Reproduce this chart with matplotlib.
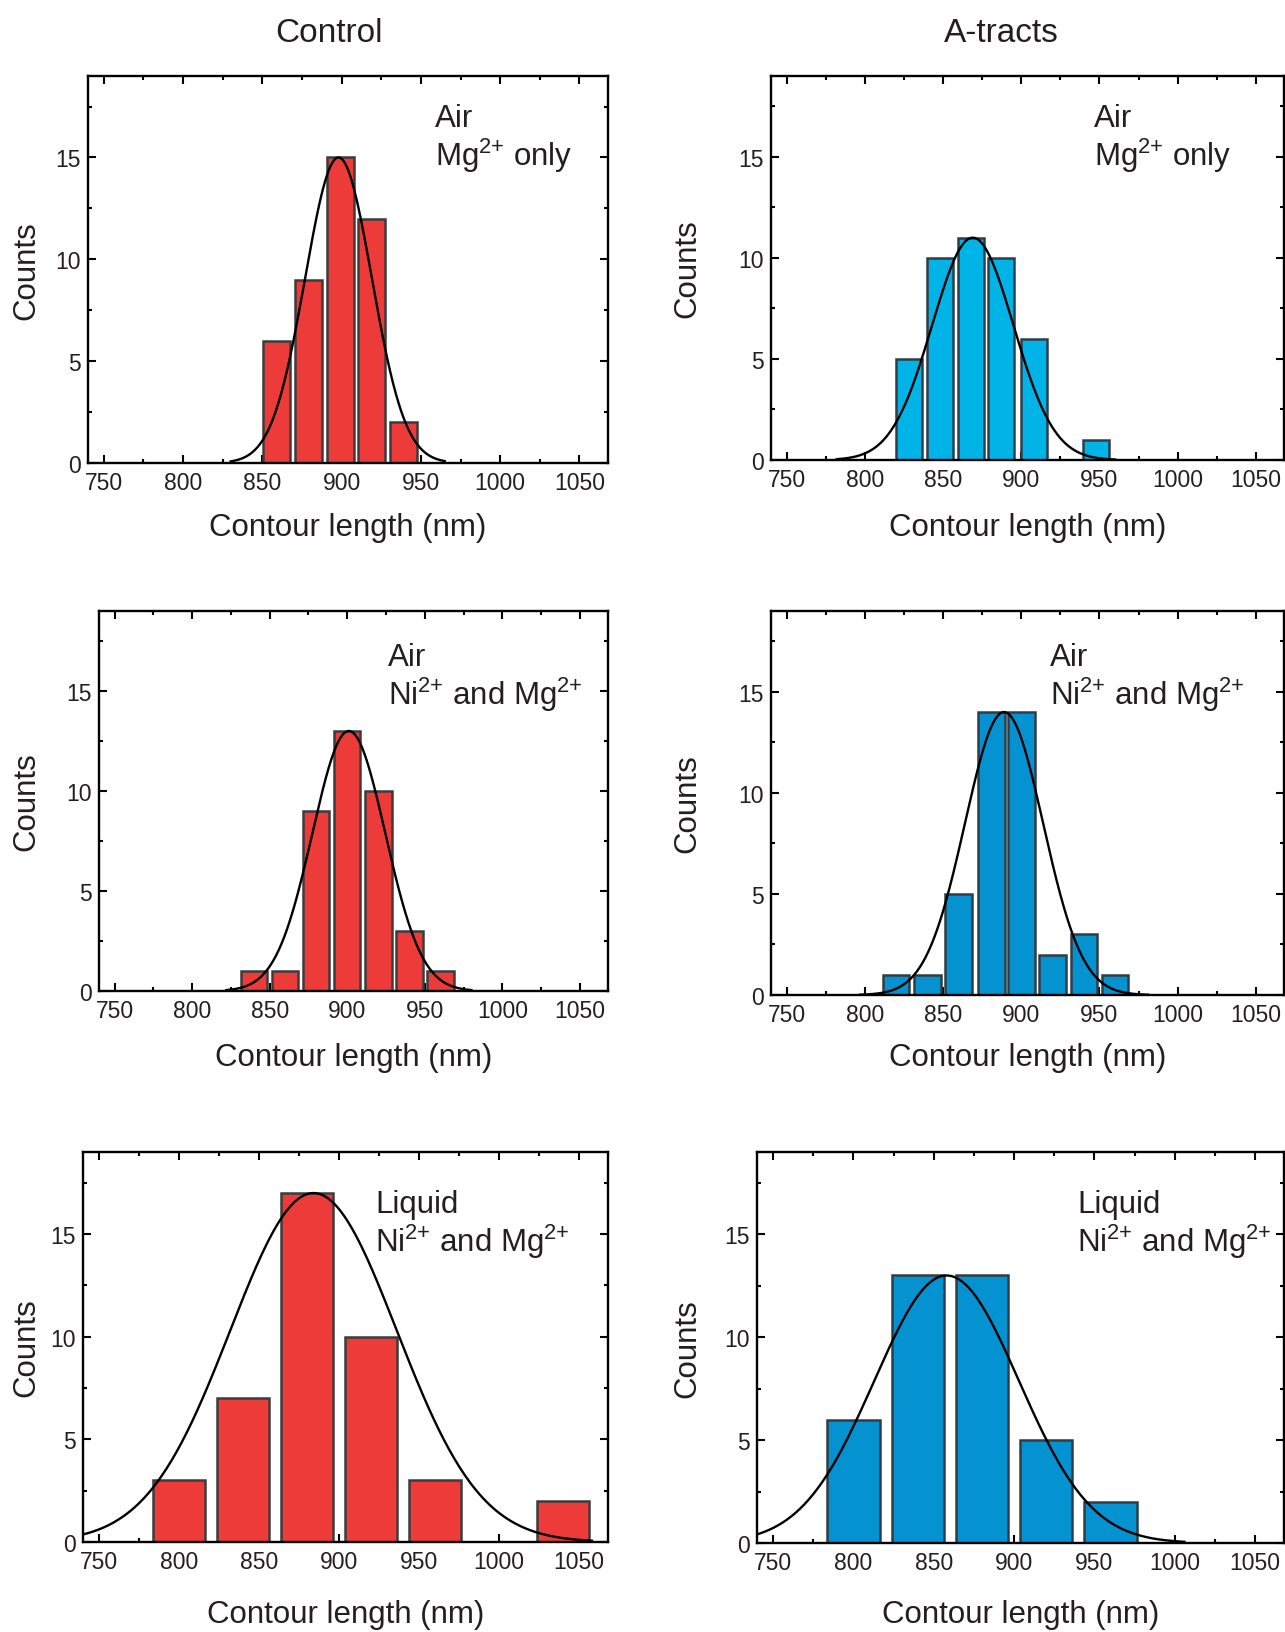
import numpy as np
import matplotlib
matplotlib.use("Agg")
import matplotlib.pyplot as plt
from matplotlib import font_manager
from matplotlib.ticker import MultipleLocator

W, H = 1285, 1633

# bar centres (nm) and counts
ctrl_air_mg_x = [859, 879, 899, 919, 939]
ctrl_air_mg_y = [6, 9, 15, 12, 2]
at_air_mg_x = [828, 848, 868, 887, 908, 948]
at_air_mg_y = [5, 10, 11, 10, 6, 1]
ctrl_air_ni_x = [840, 860, 880, 900, 920, 940, 960]
ctrl_air_ni_y = [1, 1, 9, 13, 10, 3, 1]
at_air_ni_x = [820, 840, 860, 881, 900, 920, 940, 960]
at_air_ni_y = [1, 1, 5, 14, 14, 2, 3, 1]
ctrl_liq_x = [800, 840, 880, 920, 960, 1040]
ctrl_liq_y = [3, 7, 17, 10, 3, 2]
at_liq_x = [800, 840, 880, 920, 960]
at_liq_y = [6, 13, 13, 5, 2]

# gaussian fits: (centre, sigma, amplitude, drawn from, drawn to)
ctrl_air_mg_fit = (898, 21, 15, 830, 965)
at_air_mg_fit = (869, 26, 11, 782, 960)
ctrl_air_ni_fit = (901, 23.5, 13, 822, 980)
at_air_ni_fit = (889, 25, 14, 797, 981)
ctrl_liq_fit = (884, 52, 17, 740, 1058)
at_liq_fit = (858, 45, 13, 740, 1006)

names = {f.name for f in font_manager.fontManager.ttflist}
plt.rcParams['font.family'] = ['Liberation Sans', 'DejaVu Sans']
plt.rcParams['mathtext.fontset'] = 'custom'
plt.rcParams['mathtext.rm'] = 'Liberation Sans'
if 'Liberation Sans Narrow' in names:
    tick_font = dict(family='Liberation Sans Narrow', size=20)
else:
    tick_font = dict(family='Liberation Sans', size=16.5)

RED = '#EC3B38'
CYAN = '#00B4E8'
BLUE = '#0592D0'
TXT = '#231F20'

fig = plt.figure(figsize=(W / 100, H / 100), dpi=100)


def px_axes(l, t, r, b):
    return fig.add_axes([l / W, 1 - b / H, (r - l) / W, (b - t) / H])


def panel(box, xs, ys, width, color, edge, fit, line1, line2, txt_xy, xlab_y, ylab_x):
    ax = px_axes(*box)
    ax.bar(xs, ys, width=width, color=color, edgecolor=edge, linewidth=1.8, zorder=2)
    mu, sd, amp, lo, hi = fit
    gx = np.linspace(lo, hi, 300)
    ax.plot(gx, amp * np.exp(-0.5 * ((gx - mu) / sd) ** 2), color='black', lw=1.7, zorder=3)
    ax.set_xlim(740, 1068)
    ax.set_ylim(0, 19)
    ax.xaxis.set_major_locator(MultipleLocator(50))
    ax.xaxis.set_minor_locator(MultipleLocator(25))
    ax.yaxis.set_major_locator(MultipleLocator(5))
    ax.yaxis.set_minor_locator(MultipleLocator(2.5))
    ax.tick_params(which='both', direction='in', top=True, right=True, width=1.5)
    ax.tick_params(which='major', length=6)
    ax.tick_params(which='minor', length=3)
    ax.tick_params(axis='x', pad=6)
    ax.tick_params(axis='y', pad=5)
    for lab in ax.get_xticklabels() + ax.get_yticklabels():
        lab.set_fontfamily(tick_font['family'])
        lab.set_fontsize(tick_font['size'])
        lab.set_color(TXT)
    for s in ax.spines.values():
        s.set_linewidth(1.7)
    tx, ty1, ty2 = txt_xy
    fig.text(tx / W, 1 - ty1 / H, line1, fontsize=22.5, color=TXT, va='baseline')
    fig.text(tx / W, 1 - ty2 / H, line2, fontsize=22.5, color=TXT, va='baseline')
    cx = (box[0] + box[2]) / 2
    fig.text(cx / W, 1 - xlab_y / H, 'Contour length (nm)', fontsize=22.5,
             color=TXT, ha='center', va='center')
    fig.text(ylab_x / W, 1 - (box[1] + box[3]) / 2 / H, 'Counts', fontsize=22.5,
             color=TXT, ha='center', va='center', rotation=90)
    return ax


mg = r'Mg$^{2{+}}$ only'
nimg = r'Ni$^{2{+}}$ and Mg$^{2{+}}$'

panel((88, 77, 608, 464), ctrl_air_mg_x, ctrl_air_mg_y, 17, RED, '#3c3c3c',
      ctrl_air_mg_fit, 'Air', mg, (435, 127, 166), 528, 26)
panel((771, 77, 1284, 461), at_air_mg_x, at_air_mg_y, 16.5, CYAN, '#2e3d47',
      at_air_mg_fit, 'Air', mg, (1094, 127, 166), 528, 687)
panel((99, 612, 608, 992), ctrl_air_ni_x, ctrl_air_ni_y, 17, RED, '#3c3c3c',
      ctrl_air_ni_fit, 'Air', nimg, (388, 666, 705), 1058, 26)
panel((771, 612, 1284, 996), at_air_ni_x, at_air_ni_y, 17, BLUE, '#2e3d47',
      at_air_ni_fit, 'Air', nimg, (1050, 666, 705), 1058, 687)
panel((83, 1153, 608, 1543), ctrl_liq_x, ctrl_liq_y, 32.5, RED, '#3c3c3c',
      ctrl_liq_fit, 'Liquid', nimg, (375, 1213, 1252), 1615, 26)
panel((757, 1153, 1284, 1544), at_liq_x, at_liq_y, 32.5, BLUE, '#2e3d47',
      at_liq_fit, 'Liquid', nimg, (1077, 1213, 1252), 1615, 687)

fig.text(329 / W, 1 - 42 / H, 'Control', fontsize=24, color=TXT, ha='center', va='baseline')
fig.text(1001 / W, 1 - 42 / H, 'A-tracts', fontsize=24, color=TXT, ha='center', va='baseline')

fig.savefig('out.png', dpi=100, facecolor='white')
